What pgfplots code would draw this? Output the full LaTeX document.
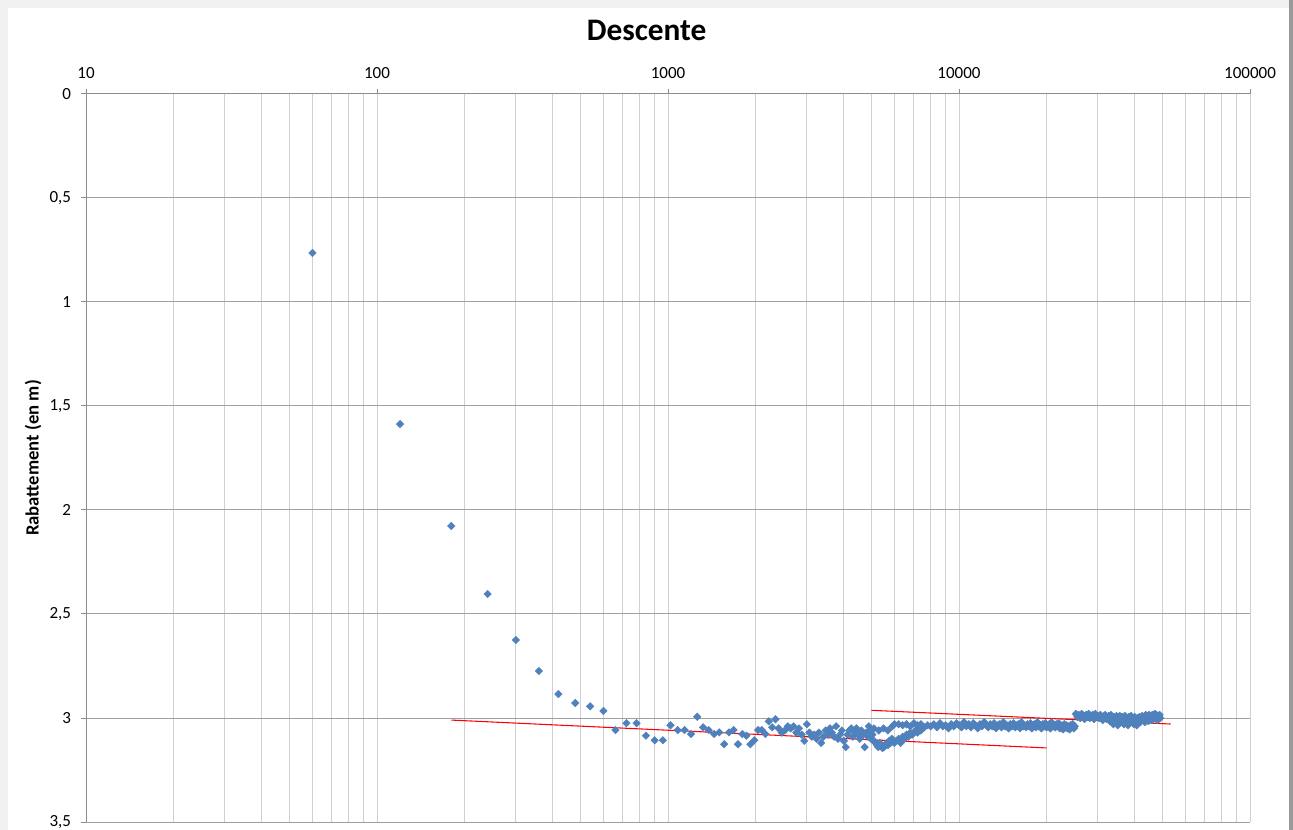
\documentclass[border=0pt]{standalone}
\usepackage{fontspec}
\setmainfont{Carlito}
\usepackage{pgfplots}
\pgfplotsset{compat=1.18}
\usepackage{pgfplotstable}
\definecolor{xlblue}{HTML}{4F81BD}
\definecolor{hgrid}{HTML}{A0A0A0}
\definecolor{vgrid}{HTML}{D0D0D0}
\definecolor{axl}{HTML}{8C8C8C}

\pgfplotstableread{
x y
60 0.764
120 1.587
180 2.077
240 2.404
300 2.625
360 2.774
420 2.885
480 2.928
540 2.944
600 2.966
660 3.058
720 3.025
780 3.025
840 3.085
900 3.107
960 3.107
1020 3.035
1080 3.058
1140 3.058
1200 3.077
1260 2.994
1320 3.045
1380 3.058
1440 3.077
1500 3.069
1560 3.126
1620 3.069
1680 3.058
1740 3.126
1800 3.077
1860 3.085
1920 3.126
1980 3.107
2040 3.058
2100 3.058
2160 3.077
2220 3.016
2280 3.045
2340 3.006
2400 3.05
2460 3.07
2520 3.06
2580 3.04
2640 3.05
2700 3.04
2760 3.07
2820 3.05
2880 3.08
2940 3.11
3000 3.03
3060 3.07
3120 3.09
3180 3.08
3240 3.10
3300 3.07
3360 3.12
3420 3.09
3480 3.06
3540 3.08
3600 3.05
3660 3.07
3720 3.09
3780 3.04
3840 3.10
3900 3.08
3960 3.06
4020 3.11
4080 3.14
4140 3.08
4200 3.06
4260 3.05
4320 3.09
4380 3.07
4440 3.05
4500 3.08
4560 3.10
4620 3.06
4680 3.08
4740 3.14
4800 3.07
4860 3.09
4920 3.06
4980 3.10
5040 3.08
5100 3.11
5160 3.12
5220 3.13
5280 3.14
5340 3.12
5400 3.13
5460 3.145
5520 3.14
5580 3.13
5640 3.12
5700 3.13
5760 3.11
5820 3.12
5880 3.10
5940 3.11
4900 3.04
5100 3.05
5300 3.06
5500 3.05
5700 3.06
5900 3.04
6000 3.12
6100 3.11
6200 3.10
6300 3.12
6400 3.09
6500 3.10
6600 3.08
6700 3.09
6800 3.07
6900 3.08
7000 3.07
7100 3.06
7200 3.07
7300 3.05
7400 3.06
7500 3.05
6000 3.03
6200 3.03
6400 3.035
6600 3.03
6800 3.04
7000 3.025
7200 3.035
7400 3.03
7600 3.045
7800 3.035
8000 3.04
8200 3.03
8400 3.045
8600 3.025
8800 3.04
9000 3.035
9200 3.05
9400 3.03
9600 3.04
9800 3.025
10000 3.035
10200 3.045
10400 3.02
10600 3.04
10800 3.03
11000 3.045
11200 3.025
11400 3.035
11600 3.05
11800 3.03
12000 3.04
12200 3.02
12400 3.035
12600 3.045
12800 3.03
13000 3.04
13200 3.025
13400 3.05
13600 3.035
13800 3.03
14000 3.045
14200 3.02
14400 3.04
14600 3.035
14800 3.05
15000 3.03
15200 3.04
15400 3.025
15600 3.045
15800 3.035
16000 3.03
16200 3.05
16400 3.02
16600 3.04
16800 3.035
17000 3.045
17200 3.03
17400 3.04
17600 3.025
17800 3.05
18000 3.035
18200 3.03
18400 3.045
18600 3.02
18800 3.04
19000 3.035
19200 3.05
19400 3.03
19600 3.04
19800 3.025
20000 3.045
20200 3.035
20400 3.03
20600 3.05
20800 3.02
21000 3.04
21200 3.035
21400 3.045
21600 3.03
21800 3.04
22000 3.025
22200 3.05
22400 3.035
22600 3.04
22800 3.055
23000 3.03
23200 3.045
23400 3.035
23600 3.05
23800 3.04
24000 3.055
24200 3.035
24400 3.045
24600 3.03
24800 3.05
25000 3.04
25200 2.98
25500 2.995
25800 2.985
26100 3.00
26400 2.98
26700 2.99
27000 3.005
27300 2.985
27600 2.995
27900 2.98
28200 3.00
28500 2.99
28800 2.985
29100 3.005
29400 2.98
29700 2.995
30000 2.99
30300 3.00
30600 2.985
30900 2.995
31200 3.01
31500 2.99
31800 2.985
32100 3.005
32400 2.995
32700 2.99
33000 3.015
33300 2.985
33600 3.00
33900 3.03
34200 2.995
34500 3.01
34800 2.99
35100 3.035
35400 3.00
35700 2.99
36000 3.015
36300 2.995
36600 3.005
36900 3.03
37200 2.99
37500 3.01
37800 3.00
38100 3.035
38400 2.995
38700 3.01
39000 2.99
39300 3.015
39600 3.005
39900 3.03
40200 2.995
40500 3.01
40800 3.035
41100 3.00
41400 3.015
41700 2.995
42000 3.02
42300 3.005
42600 2.99
42900 3.01
43200 3.00
43500 3.02
43800 2.985
44100 3.005
44400 2.995
44700 3.015
45000 2.985
45300 3.00
45600 2.99
45900 3.01
46200 2.985
46500 3.005
46800 2.99
47100 2.98
47400 3.00
47700 2.985
48000 3.01
48300 2.99
48600 3.005
48900 2.985
49200 3.00
}\descente

\begin{document}
\begin{tikzpicture}[x=1pt,y=1pt]
\fill[black!6] (0,0) rectangle (969.75,622.5);
\fill[white] (6,0) rectangle (966.5,616.5);
\fill[black!40] (966.5,0) rectangle (969.75,622.5);
\path[use as bounding box] (0,0) rectangle (969.75,622.5);
\node[font=\bfseries\fontsize{23.5}{28}\selectfont] at (485,600) {Descente};
\begin{axis}[
  at={(64.5pt,552pt)}, anchor=north west,
  width=873pt, height=546pt, scale only axis,
  xmode=log, xmin=10, xmax=100000,
  ymin=0, ymax=3.5, y dir=reverse,
  axis x line=top, axis y line=left,
  axis line style={-, axl, line width=0.75pt},
  xtick={10,100,1000,10000,100000},
  xticklabels={10,100,1000,10000,100000},
  ytick={0,0.5,1,1.5,2,2.5,3,3.5},
  /pgf/number format/use comma,
  /pgf/number format/assume math mode=true,
  tick align=outside, major tick length=3.75pt, minor tick length=0pt,
  tick style={axl, line width=0.75pt},
  xmajorgrids, xminorgrids, ymajorgrids,
  major x grid style={vgrid, line width=0.75pt},
  minor x grid style={vgrid, line width=0.75pt},
  major y grid style={hgrid, line width=0.75pt},
  ticklabel style={font=\fontsize{12.75}{15}\selectfont, text=black},
  yticklabel style={xshift=-4pt},
  xticklabel style={yshift=4pt},
  ylabel={Rabattement (en m)},
  ylabel style={font=\bfseries\fontsize{14}{17}\selectfont, at={(axis description cs:-0.0455,0.5)}, anchor=center},
  clip=false,
]
\addplot[only marks, mark=square*, mark size=2pt, mark options={rotate=45, fill=xlblue, draw=xlblue, line width=0.3pt}] table[x=x,y=y] {\descente};
\addplot[red, line width=0.8pt, no marks] coordinates {(180,3.010) (20000,3.144)};
\addplot[red, line width=0.8pt, no marks] coordinates {(5000,2.963) (53400,3.029)};
\end{axis}
\end{tikzpicture}
\end{document}
